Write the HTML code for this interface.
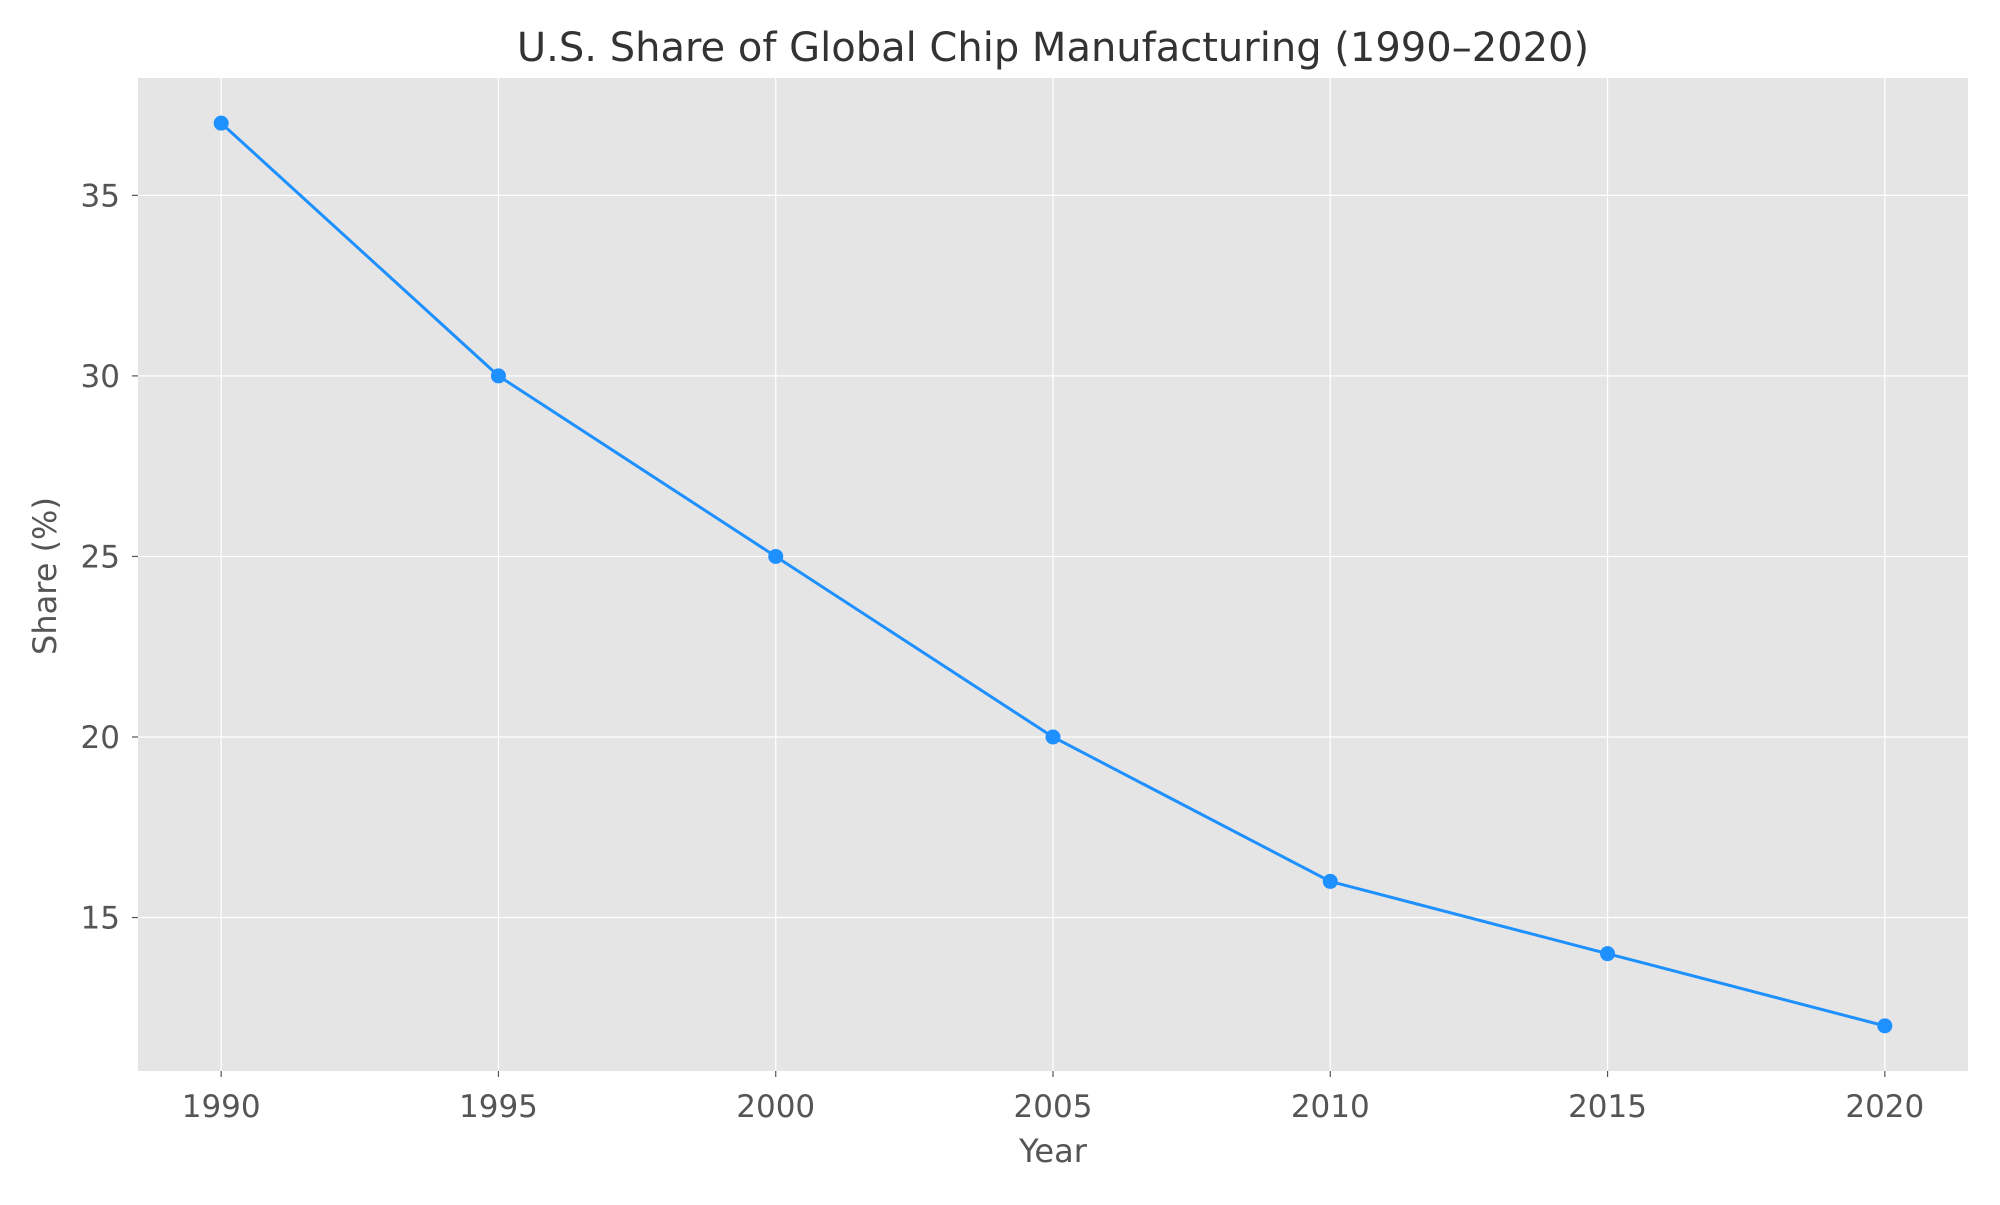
<!DOCTYPE html>
<html><head><meta charset="utf-8"><style>
body{margin:0;background:#fff;}
svg text{font-family:"DejaVu Sans","Liberation Sans",sans-serif;}
</style></head><body>
<svg id="chart" width="2000" height="1200" viewBox="0 0 2000 1200" xmlns="http://www.w3.org/2000/svg">
<rect width="2000" height="1200" fill="#fff"/>
<rect x="138" y="78" width="1830" height="993" fill="#E5E5E5"/>
<g id="grid"></g><g id="ticks"></g><g id="series"></g>
<text x="1053" y="61" font-size="40" text-anchor="middle" fill="#333">U.S. Share of Global Chip Manufacturing (1990–2020)</text>
<text x="1053" y="1162" font-size="32" text-anchor="middle" fill="#555">Year</text>
<text x="0" y="0" font-size="32" text-anchor="middle" fill="#555" transform="translate(56,576) rotate(-90)">Share (%)</text>
</svg>
<script>
const years=[1990,1995,2000,2005,2010,2015,2020];
const shares=[37,30,25,20,16,14,12];
const xTicks=[1990,1995,2000,2005,2010,2015,2020];
const yTicks=[15,20,25,30,35];
const L=138,R=1968,T=78,B=1071;
const xmin=1988.5,xmax=2021.5,ymin=10.75,ymax=38.25;
function xs(v){return L+(v-xmin)/(xmax-xmin)*(R-L);}
function ys(v){return B-(v-ymin)/(ymax-ymin)*(B-T);}
const NS="http://www.w3.org/2000/svg";
function mk(t,a,p){const e=document.createElementNS(NS,t);for(const k in a)e.setAttribute(k,a[k]);p.appendChild(e);return e;}
const g=document.getElementById('grid'),tk=document.getElementById('ticks'),s=document.getElementById('series');
xTicks.forEach(v=>{const x=xs(v);
 const l=mk('line',{x1:x,x2:x,y1:T,y2:B,stroke:'#fff','stroke-width':1.2},g);
 
 
 const m=mk('line',{x1:x,x2:x,y1:B,y2:B+6,stroke:'#555','stroke-width':1.2},tk);
 
 
 const t=mk('text',{x:x,y:1117,'font-size':31,'text-anchor':'middle',fill:'#555'},tk);t.textContent=v;
 
 
});
yTicks.forEach(v=>{const y=ys(v);
 const l=mk('line',{x1:L,x2:R,y1:y,y2:y,stroke:'#fff','stroke-width':1.2},g);
 
 
 const m=mk('line',{x1:L-6,x2:L,y1:y,y2:y,stroke:'#555','stroke-width':1.2},tk);
 
 
 const t=mk('text',{x:L-18,y:y+11,'font-size':31,'text-anchor':'end',fill:'#555'},tk);t.textContent=v;
 
 
});
const pts=years.map((y,i)=>xs(y)+','+ys(shares[i])).join(' ');
const pl=mk('polyline',{points:pts,fill:'none',stroke:'#1E90FF','stroke-width':3},s);


years.forEach((y,i)=>{const c=mk('circle',{cx:xs(y),cy:ys(shares[i]),r:7.5,fill:'#1E90FF'},s);
 
 
});
</script>
</body></html>
